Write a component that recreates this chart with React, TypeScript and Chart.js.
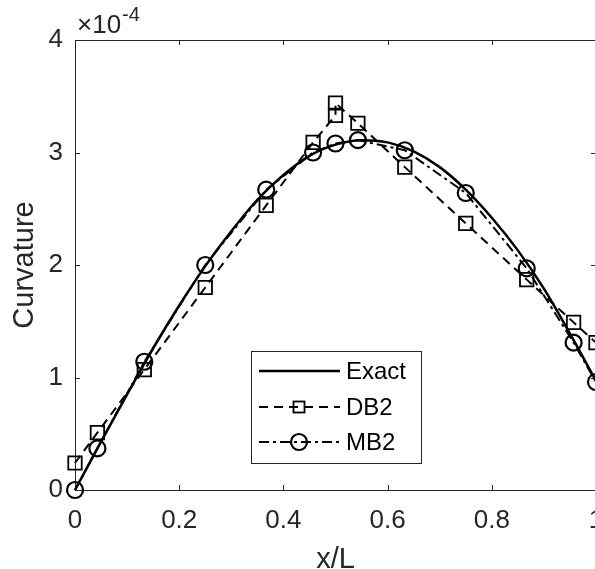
import React, { useEffect, useRef } from "react";
import { Chart, registerables } from "chart.js";

Chart.register(...registerables);

// Values in units of 1e-4 (axis shows ×10^-4)
const exactX = [0, 0.05, 0.1, 0.15, 0.2, 0.25, 0.3, 0.35, 0.4, 0.45, 0.5, 0.55, 0.6, 0.65, 0.7, 0.75, 0.8, 0.85, 0.9, 0.95, 1.0];
const exactY = [0, 0.43, 0.85, 1.26, 1.64, 1.99, 2.3, 2.58, 2.8, 2.97, 3.07, 3.11, 3.09, 3.01, 2.87, 2.67, 2.42, 2.13, 1.79, 1.39, 0.97];

const db2X = [0, 0.043, 0.133, 0.25, 0.367, 0.457, 0.5, 0.5, 0.543, 0.633, 0.75, 0.867, 0.957, 1.0];
const db2Y = [0.24, 0.51, 1.07, 1.8, 2.53, 3.09, 3.33, 3.44, 3.26, 2.87, 2.37, 1.87, 1.49, 1.31];

const mb2X = [0, 0.043, 0.133, 0.25, 0.367, 0.457, 0.5, 0.543, 0.633, 0.75, 0.867, 0.957, 1.0];
const mb2Y = [0, 0.37, 1.14, 2.0, 2.67, 3.0, 3.08, 3.11, 3.02, 2.64, 1.97, 1.31, 0.96];

const xTicks = [0, 0.2, 0.4, 0.6, 0.8, 1];
const xTickLabels = ["0", "0.2", "0.4", "0.6", "0.8", "1"];
const yTicks = [0, 1, 2, 3, 4];
const yTickLabels = ["0", "1", "2", "3", "4"];
const seriesNames = ["Exact", "DB2", "MB2"];
const xTitle = "x/L";
const yTitle = "Curvature";
const yExponent = "-4";

const FONT = '"Liberation Sans", Arial, sans-serif';
const AXIS = "#262626";

const toPts = (xs: number[], ys: number[]) => xs.map((x, i) => ({ x, y: ys[i] }));

const axesPlugin = {
  id: "matlabAxes",
  beforeDatasetsDraw(chart: any) {
    const { ctx, chartArea, scales } = chart;
    const { left, right, top, bottom } = chartArea;
    ctx.save();
    ctx.strokeStyle = AXIS;
    ctx.lineWidth = 1;
    ctx.beginPath();
    ctx.moveTo(left + 0.5, top + 0.5);
    ctx.lineTo(right + 0.5, top + 0.5);
    ctx.lineTo(right + 0.5, bottom + 0.5);
    ctx.lineTo(left + 0.5, bottom + 0.5);
    ctx.closePath();
    const tl = 5;
    xTicks.forEach((v) => {
      const px = Math.round(scales.x.getPixelForValue(v)) + 0.5;
      ctx.moveTo(px, bottom);
      ctx.lineTo(px, bottom - tl);
      ctx.moveTo(px, top);
      ctx.lineTo(px, top + tl);
    });
    yTicks.forEach((v) => {
      const py = Math.round(scales.y.getPixelForValue(v)) + 0.5;
      ctx.moveTo(left, py);
      ctx.lineTo(left + tl, py);
      ctx.moveTo(right, py);
      ctx.lineTo(right - tl, py);
    });
    ctx.stroke();
    ctx.restore();
  },
  afterDraw(chart: any) {
    const { ctx, chartArea } = chart;
    const { left, top } = chartArea;
    ctx.save();
    ctx.fillStyle = AXIS;
    ctx.textBaseline = "alphabetic";
    ctx.textAlign = "left";
    ctx.font = `26px ${FONT}`;
    const base = "\u00d710";
    ctx.fillText(base, left + 2, top - 7);
    const w = ctx.measureText(base).width;
    ctx.font = `20px ${FONT}`;
    ctx.fillText(yExponent, left + 2 + w + 1, top - 19);
    ctx.restore();

    // legend
    const lx = 251, ly = 351, lw = 170, lh = 112;
    ctx.save();
    ctx.fillStyle = "#ffffff";
    ctx.fillRect(lx, ly, lw, lh);
    ctx.strokeStyle = AXIS;
    ctx.lineWidth = 1;
    ctx.strokeRect(lx + 0.5, ly + 0.5, lw, lh);
    const rows = [371, 407, 442];
    const sx0 = 259, sx1 = 340, mx = 299;
    chart.data.datasets.forEach((ds: any, i: number) => {
      const y = rows[i];
      ctx.save();
      ctx.strokeStyle = "#000";
      ctx.lineWidth = ds.borderWidth;
      ctx.setLineDash(ds.borderDash || []);
      ctx.beginPath();
      ctx.moveTo(sx0, y);
      ctx.lineTo(sx1, y);
      ctx.stroke();
      ctx.setLineDash([]);
      ctx.lineWidth = ds.pointBorderWidth;
      if (ds.pointStyle === "rect" && ds.pointRadius > 0) {
        ctx.strokeRect(mx - 5.5, y - 5.5, 11, 11);
      } else if (ds.pointStyle === "circle" && ds.pointRadius > 0) {
        ctx.beginPath();
        ctx.arc(mx, y, ds.pointRadius, 0, Math.PI * 2);
        ctx.stroke();
      }
      ctx.restore();
      ctx.fillStyle = "#000";
      ctx.font = `24px ${FONT}`;
      ctx.textAlign = "left";
      ctx.textBaseline = "middle";
      ctx.fillText(ds.label, 346, y + 1);
    });
    ctx.restore();
  },
};

export default function App() {
  const ref = useRef<HTMLCanvasElement | null>(null);
  useEffect(() => {
    if (!ref.current) return;
    const chart = new Chart(ref.current, {
      type: "scatter",
      data: {
        datasets: [
          {
            label: seriesNames[0],
            data: toPts(exactX, exactY),
            showLine: true,
            borderColor: "#000",
            borderWidth: 2.5,
            pointRadius: 0,
            pointStyle: "circle",
            pointBorderWidth: 0,
            cubicInterpolationMode: "monotone",
            clip: false,
          },
          {
            label: seriesNames[1],
            data: toPts(db2X, db2Y),
            showLine: true,
            borderColor: "#000",
            borderWidth: 2,
            borderDash: [9, 6],
            pointStyle: "rect",
            pointRadius: 9.5,
            pointBorderWidth: 1.8,
            pointBorderColor: "#000",
            pointBackgroundColor: "rgba(0,0,0,0)",
            clip: false,
          },
          {
            label: seriesNames[2],
            data: toPts(mb2X, mb2Y),
            showLine: true,
            borderColor: "#000",
            borderWidth: 2,
            borderDash: [10, 4, 3, 4],
            pointStyle: "circle",
            pointRadius: 8,
            pointBorderWidth: 2.2,
            pointBorderColor: "#000",
            pointBackgroundColor: "rgba(0,0,0,0)",
            clip: false,
          },
        ],
      } as any,
      options: {
        animation: false,
        responsive: false,
        devicePixelRatio: 1,
        layout: { padding: { left: 0, top: 40, right: 44, bottom: 0 } },
        plugins: { legend: { display: false }, tooltip: { enabled: false } },
        scales: {
          x: {
            type: "linear",
            position: "bottom",
            min: 0,
            max: 1,
            afterBuildTicks: (s: any) => {
              s.ticks = xTicks.map((v) => ({ value: v }));
            },
            afterFit: (s: any) => {
              s.height = 90;
            },
            grid: { display: false, drawTicks: false },
            border: { display: false },
            ticks: {
              autoSkip: false,
              maxRotation: 0,
              padding: 15,
              color: AXIS,
              font: { family: FONT, size: 26 },
              callback: (_v: any, i: number) => xTickLabels[i],
            },
            title: {
              display: true,
              text: xTitle,
              color: AXIS,
              font: { family: FONT, size: 29, lineHeight: 1 },
              padding: { top: 0, bottom: 6 },
            },
          },
          y: {
            type: "linear",
            min: 0,
            max: 4,
            afterBuildTicks: (s: any) => {
              s.ticks = yTicks.map((v) => ({ value: v }));
            },
            afterFit: (s: any) => {
              s.width = 75;
            },
            grid: { display: false, drawTicks: false },
            border: { display: false },
            ticks: {
              autoSkip: false,
              padding: 12,
              color: AXIS,
              font: { family: FONT, size: 26 },
              callback: (_v: any, i: number) => yTickLabels[i],
            },
            title: {
              display: true,
              text: yTitle,
              color: AXIS,
              font: { family: FONT, size: 29, lineHeight: 1 },
              padding: { top: 10, bottom: 0 },
            },
          },
        },
      } as any,
      plugins: [axesPlugin],
    });
    return () => chart.destroy();
  }, []);
  return (
    <div style={{ position: "absolute", left: 0, top: 0, width: 595, height: 569, overflow: "hidden", background: "#fff" }}>
      <canvas ref={ref} width={640} height={580} style={{ width: 640, height: 580, display: "block" }} />
    </div>
  );
}
